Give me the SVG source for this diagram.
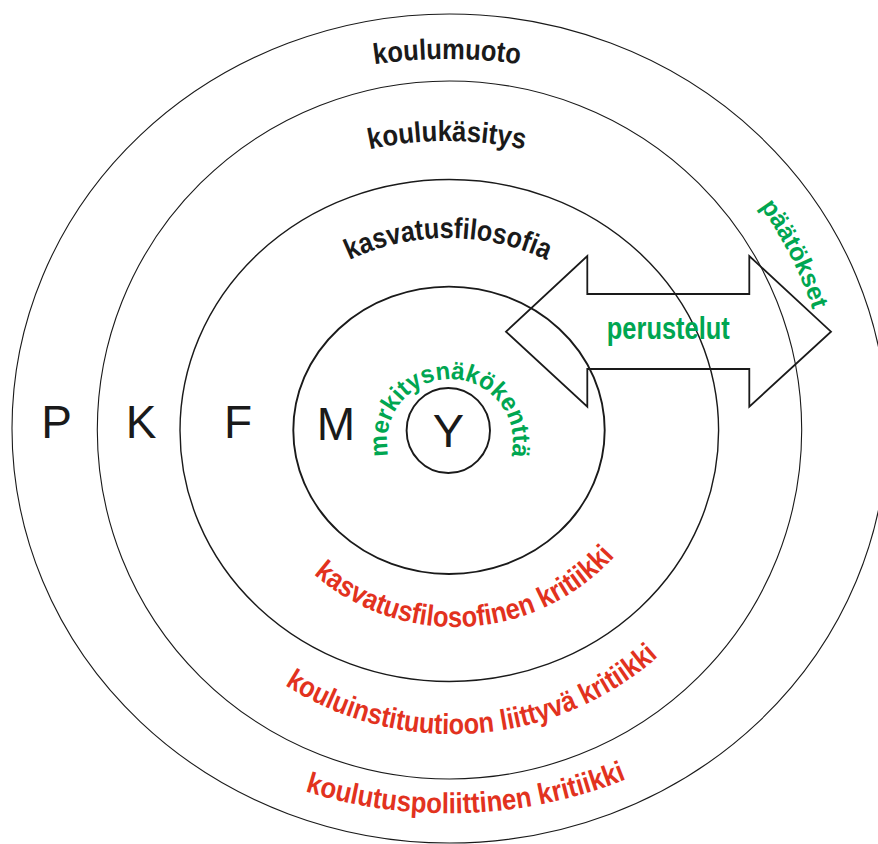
<svg xmlns="http://www.w3.org/2000/svg" width="878" height="844" viewBox="0 0 878 844">
  <defs>
    <style>
      .ring { fill: none; stroke: #1a1a1a; }
      .thin { stroke-width: 1.1; }
      .mid { stroke-width: 1.4; }
      .bold { stroke-width: 1.9; }
      .letter { font-family: "Liberation Sans", Arial, sans-serif; font-size: 46px; fill: #1a1a1a; text-anchor: middle; }
      .lbl { font-family: "Liberation Sans", Arial, sans-serif; font-weight: bold; text-anchor: middle; }
      .black { fill: #1a1a1a; font-size: 29px; }
      .green { fill: #00a651; }
      .red { fill: #e2321e; font-size: 29px; }
    </style>
    <!-- baselines for the curved labels -->
    <path id="arcP" d="M -53 559 A 500 500 0 0 1 947 559"/>
    <path id="arcK" d="M 87 501 A 360 360 0 0 1 807 501"/>
    <path id="arcF" d="M 216 470 A 232 232 0 0 1 680 470"/>
    <path id="arcY" d="M 395.4 473.5 A 63 63 0 1 1 504.6 473.5"/>
    <path id="arcDec" d="M 640.5 98.3 A 383 383 0 0 1 832 430"/>
    <path id="arcC1" d="M 239 411 A 216 216 0 0 0 671 411"/>
    <path id="arcC2" d="M 141.3 422.7 A 311.4 311.4 0 0 0 764.1 422.7"/>
    <path id="arcC3" d="M -31.4 333.3 A 480 480 0 0 0 928.6 333.3"/>
  </defs>

  <rect width="878" height="844" fill="#ffffff"/>

  <!-- concentric rings -->
  <g id="ring-P"><ellipse class="ring thin" cx="449.5" cy="428.5" rx="437.5" ry="414.5"/><text class="letter" x="56.5" y="438">P</text></g>
  <g id="ring-K"><ellipse class="ring thin" cx="449.5" cy="430" rx="352.2" ry="349"/><text class="letter" x="141" y="438">K</text></g>
  <g id="ring-F"><ellipse class="ring mid" cx="449.3" cy="430.5" rx="269.3" ry="251"/><text class="letter" x="238" y="438">F</text></g>
  <g id="ring-M"><ellipse class="ring bold" cx="449" cy="430.3" rx="155.7" ry="143.7"/><text class="letter" x="336" y="440">M</text></g>
  <g id="ring-Y"><ellipse class="ring bold" cx="448.3" cy="430.5" rx="41.7" ry="42.5"/><text class="letter" x="448.5" y="446.5" style="font-size:47px">Y</text></g>

  <!-- ring labels -->
  <g id="label-koulumuoto"><text class="lbl black"><textPath href="#arcP" startOffset="50%" textLength="146" lengthAdjust="spacingAndGlyphs">koulumuoto</textPath></text></g>
  <g id="label-koulukasitys"><text class="lbl black"><textPath href="#arcK" startOffset="50%" textLength="156" lengthAdjust="spacingAndGlyphs">koulukäsitys</textPath></text></g>
  <g id="label-kasvatusfilosofia"><text class="lbl black"><textPath href="#arcF" startOffset="50%" textLength="204" lengthAdjust="spacingAndGlyphs">kasvatusfilosofia</textPath></text></g>
  <g id="label-merkitys"><text class="lbl green" style="font-size:25px"><textPath href="#arcY" startOffset="50%" textLength="226" lengthAdjust="spacingAndGlyphs">merkitysnäkökenttä</textPath></text></g>

  <!-- critique labels -->
  <g id="critique-F"><text class="lbl red"><textPath href="#arcC1" startOffset="352" textLength="334" lengthAdjust="spacingAndGlyphs">kasvatusfilosofinen kritiikki</textPath></text></g>
  <g id="critique-K"><text class="lbl red"><textPath href="#arcC2" startOffset="512.5" textLength="402" lengthAdjust="spacingAndGlyphs">kouluinstituutioon liittyvä kritiikki</textPath></text></g>
  <g id="critique-P"><text class="lbl red"><textPath href="#arcC3" startOffset="772" textLength="328" lengthAdjust="spacingAndGlyphs">koulutuspoliittinen kritiikki</textPath></text></g>

  <!-- connectors -->
  <g id="connectors">
    <polygon id="arrow-perustelut" points="506,331.7 587.3,256 587.3,294 749.3,294 749.3,256 831,331.7 749.3,406.7 749.3,369 587.3,369 587.3,406.7" fill="none" stroke="#1a1a1a" stroke-width="1.8" stroke-linejoin="miter"/>
    <text class="lbl green" x="668.3" y="339.3" style="font-size:31px" textLength="123" lengthAdjust="spacingAndGlyphs">perustelut</text>
    <text class="lbl green" style="font-size:25px"><textPath href="#arcDec" startOffset="220.6">päätökset</textPath></text>
  </g>
</svg>
